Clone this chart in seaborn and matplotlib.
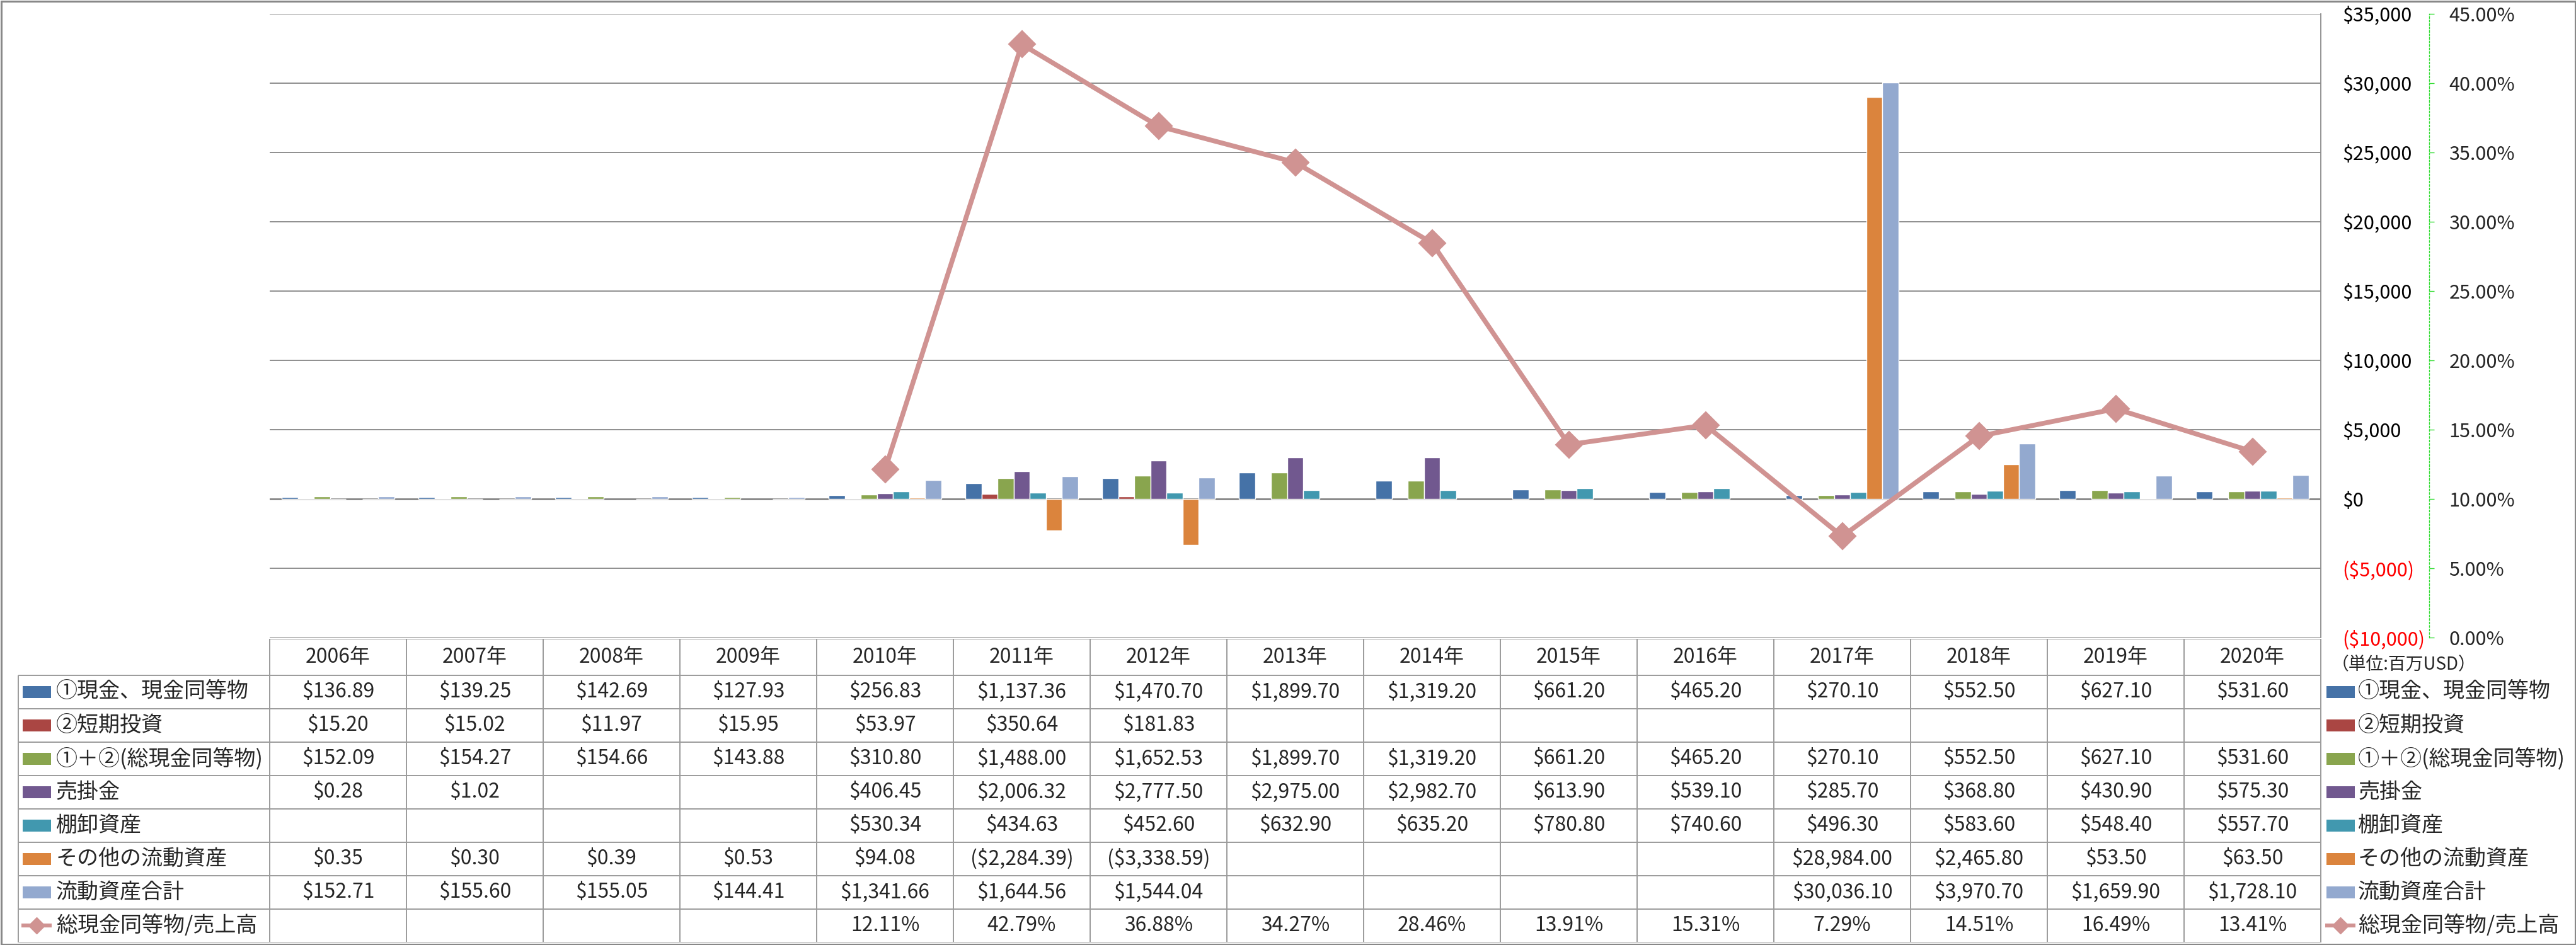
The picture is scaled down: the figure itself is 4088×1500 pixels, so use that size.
import numpy as np
import pandas as pd
import seaborn as sns
import matplotlib.pyplot as plt
from matplotlib.patches import Rectangle

# データ (単位:百万USD)
years = ["2006年", "2007年", "2008年", "2009年", "2010年", "2011年", "2012年", "2013年",
         "2014年", "2015年", "2016年", "2017年", "2018年", "2019年", "2020年"]
series_names = ["①現金、現金同等物", "②短期投資", "①＋②(総現金同等物)", "売掛金",
                "棚卸資産", "その他の流動資産", "流動資産合計"]
line_name = "総現金同等物/売上高"
nan = np.nan

cash = [136.89, 139.25, 142.69, 127.93, 256.83, 1137.36, 1470.70, 1899.70, 1319.20,
        661.20, 465.20, 270.10, 552.50, 627.10, 531.60]
short_inv = [15.20, 15.02, 11.97, 15.95, 53.97, 350.64, 181.83, nan, nan,
             nan, nan, nan, nan, nan, nan]
total_cash = [152.09, 154.27, 154.66, 143.88, 310.80, 1488.00, 1652.53, 1899.70, 1319.20,
              661.20, 465.20, 270.10, 552.50, 627.10, 531.60]
receivables = [0.28, 1.02, nan, nan, 406.45, 2006.32, 2777.50, 2975.00, 2982.70,
               613.90, 539.10, 285.70, 368.80, 430.90, 575.30]
inventory = [nan, nan, nan, nan, 530.34, 434.63, 452.60, 632.90, 635.20,
             780.80, 740.60, 496.30, 583.60, 548.40, 557.70]
other = [0.35, 0.30, 0.39, 0.53, 94.08, -2284.39, -3338.59, nan, nan,
         nan, nan, 28984.00, 2465.80, 53.50, 63.50]
current_total = [152.71, 155.60, 155.05, 144.41, 1341.66, 1644.56, 1544.04, nan, nan,
                 nan, nan, 30036.10, 3970.70, 1659.90, 1728.10]
ratio = [nan, nan, nan, nan, 12.11, 42.79, 36.88, 34.27, 28.46,
         13.91, 15.31, 7.29, 14.51, 16.49, 13.41]

bar_colors = ["#4572A7", "#AA4643", "#89A54E", "#71588F", "#4198AF", "#DB843D", "#93A9CF"]
line_color = "#D09392"
grid_color = "#868686"
table_color = "#9B9B9B"

bar_values = [cash, short_inv, total_cash, receivables, inventory, other, current_total]
rows = [(y, name, v) for name, vals in zip(series_names, bar_values) for y, v in zip(years, vals)]
df = pd.DataFrame(rows, columns=["year", "series", "value"]).dropna()
df_line = pd.DataFrame({"pos": np.arange(len(years)), "ratio": ratio}).dropna()

sns.set_style("white")
plt.rcParams['font.family'] = ['Noto Sans CJK JP', 'DejaVu Sans']
fs_num = 23      # 表の数値・年
fs_lab = 24.5    # 系列名
fs_tick = 22     # 軸目盛

W, H = 4088, 1500
fig = plt.figure(figsize=(W / 100, H / 100), dpi=100)

# レイアウト (ピクセル)
plot_l, plot_r, plot_t, plot_b = 428, 3683, 21.7, 1011.7
axis2_x = 3855
col_w = (plot_r - plot_l) / len(years)
tab_top, tab_bot = 1014, 1496


def px2col(px):
    return (px - plot_l) / col_w - 0.5


# 表
tab = fig.add_axes([0, 1 - tab_bot / H, 1, (tab_bot - tab_top) / H])
tab.set_xlim(px2col(0), px2col(W))
tab.set_ylim(tab_bot - tab_top, 0)
tab.axis('off')

head_h, row_h = 57.5, 53
row_lines = [head_h + row_h * k for k in range(9)]
tab.hlines(0, -0.5, len(years) - 0.5, color=table_color, lw=1.4)
tab.hlines(row_lines, px2col(29), len(years) - 0.5, color=table_color, lw=1.4)
tab.vlines(np.arange(len(years) + 1) - 0.5, 0, row_lines[-1], color=table_color, lw=1.4)
tab.vlines(px2col(29), row_lines[0], row_lines[-1], color=table_color, lw=1.4)

for i, y in enumerate(years):
    tab.text(i, head_h / 2, y, ha='center', va='center', fontsize=fs_num)


def money(v):
    if v < 0:
        return f"(${-v:,.2f})"
    return f"${v:,.2f}"


def draw_key(x0, c, r):
    if r < len(series_names):
        tab.add_patch(Rectangle((px2col(x0), c - 9.5), 45 / col_w, 19,
                                color=bar_colors[r], lw=0))
    else:
        tab.plot([px2col(x0 - 2), px2col(x0 + 46)], [c, c], color=line_color, lw=4.5,
                 solid_capstyle='butt')
        tab.plot(px2col(x0 + 22), c, marker='D', ms=13, color=line_color)


labels = series_names + [line_name]
for r, name in enumerate(labels):
    c = row_lines[r] + row_h / 2
    draw_key(36, c, r)
    tab.text(px2col(89), c, name, ha='left', va='center', fontsize=fs_lab)
    draw_key(3692, c, r)
    tab.text(px2col(3742), c, name, ha='left', va='center', fontsize=fs_lab)
    vals = bar_values[r] if r < len(series_names) else ratio
    for i, v in enumerate(vals):
        if np.isnan(v):
            continue
        txt = money(v) if r < len(series_names) else f"{v:.2f}%"
        tab.text(i, c, txt, ha='center', va='center', fontsize=fs_num)

tab.text(px2col(3700), 1055 - tab_top, "（単位:百万USD）", ha='left', va='center', fontsize=20)

# グラフ本体 (棒)
ax = fig.add_axes([plot_l / W, 1 - plot_b / H, (plot_r - plot_l) / W, (plot_b - plot_t) / H])
sns.barplot(data=df, x="year", y="value", hue="series", order=years, hue_order=series_names,
            palette=bar_colors, saturation=1, width=0.825, errorbar=None, legend=False, ax=ax)
ax.axhline(0, color=grid_color, lw=2, zorder=0.9)
ticks = list(range(-10000, 35001, 5000))
ax.set_ylim(-10000, 35000)
ax.set_yticks(ticks)
ax.set_yticklabels([f"${t:,}" if t >= 0 else f"(${-t:,})" for t in ticks])
ax.yaxis.set_ticks_position('right')
ax.tick_params(axis='y', left=False, right=False, labelleft=False, labelright=True,
               length=0, pad=24.5, labelsize=fs_tick)
for tk, t in zip(ax.yaxis.get_major_ticks(), ticks):
    tk.label2.set_horizontalalignment('left')
    tk.label2.set_color("#FF0000" if t < 0 else "black")
ax.set_xlim(-0.5, len(years) - 0.5)
ax.set_xticks([])
ax.set_xlabel("")
ax.set_ylabel("")
ax.grid(axis='y', color=grid_color, lw=1.3)
ax.set_axisbelow(True)
for s in ["left", "top", "bottom"]:
    ax.spines[s].set_visible(False)
ax.spines["right"].set_color("#8C8C8C")
ax.spines["right"].set_linewidth(1.3)

# 第2軸 (比率): 右端を第2軸の位置まで延ばした透明な軸
ax2 = fig.add_axes([plot_l / W, 1 - plot_b / H, (axis2_x - plot_l) / W, (plot_b - plot_t) / H])
ax2.patch.set_visible(False)
sns.lineplot(data=df_line, x="pos", y="ratio", ax=ax2, color=line_color, lw=5.5,
             marker='D', markersize=21, markeredgecolor=line_color, markeredgewidth=1.5)
ax2.set_xlim(-0.5, px2col(axis2_x))
ax2.set_xticks([])
ax2.set_ylim(0, 45)
pticks = list(range(0, 46, 5))
ax2.set_yticks(pticks)
ax2.set_yticklabels([f"{t:.2f}%" for t in pticks])
ax2.yaxis.set_ticks_position('right')
ax2.tick_params(axis='y', left=False, right=True, labelleft=False, labelright=True,
                color="#33DD33", length=6, width=1, pad=16.5, labelsize=fs_tick)
for tk in ax2.yaxis.get_major_ticks():
    tk.label2.set_horizontalalignment('left')
ax2.spines["right"].set_color("#33DD33")
ax2.spines["right"].set_linestyle((0, (2, 2)))
ax2.spines["right"].set_linewidth(1)
for s in ["left", "top", "bottom"]:
    ax2.spines[s].set_visible(False)
ax2.set_xlabel("")
ax2.set_ylabel("")

fig.add_artist(Rectangle((1.5 / W, 1.5 / H), 1 - 3 / W, 1 - 3 / H, transform=fig.transFigure,
                         fill=False, ec="#888888", lw=2.2))

fig.savefig("out.png", dpi=100)
